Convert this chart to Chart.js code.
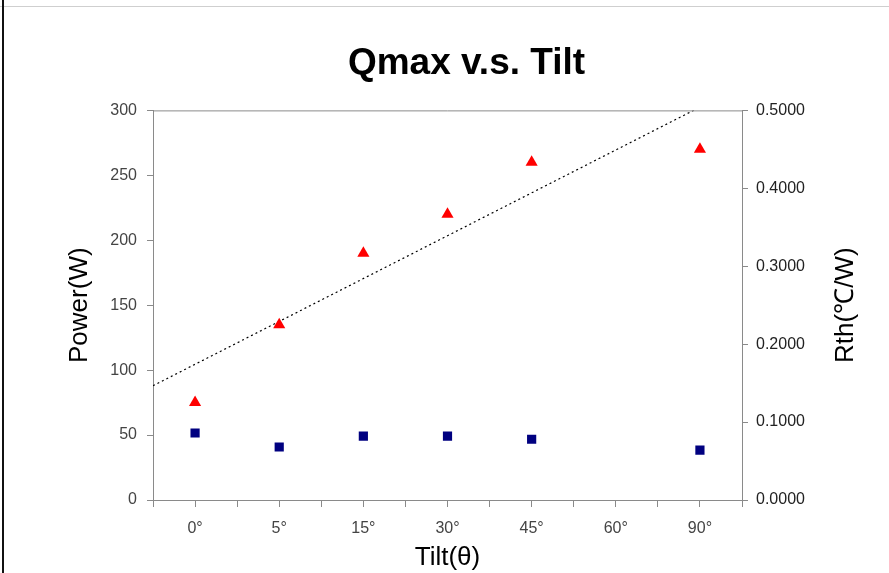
<!DOCTYPE html>
<html>
<head>
<meta charset="utf-8">
<script src="https://cdn.jsdelivr.net/npm/chart.js@4.4.0/dist/chart.umd.min.js"></script>
<style>
body { margin: 0; background: #fff; }
#wrap { position: relative; width: 889px; height: 573px; overflow: hidden; }
#topline { position: absolute; left: 0; top: 6px; width: 889px; height: 1px; background: #cfcfcf; }
#leftline { position: absolute; left: 2px; top: 0; width: 2px; height: 573px; background: #111; }
canvas { position: absolute; left: 0; top: 0; }
</style>
</head>
<body>
<div id="wrap">
  <canvas id="myChart" width="889" height="573"></canvas>
  <div id="topline"></div>
  <div id="leftline"></div>
</div>
<script>
var categories = ['0°', '5°', '15°', '30°', '45°', '60°', '90°'];
var power = [75, 135, 190, 220, 260, null, 270];
var rth = [0.086, 0.068, 0.082, 0.082, 0.078, null, 0.064];
var trendX = [-0.5, 6.5];
var trendY = [88, 319];
var powerTicks = [0, 50, 100, 150, 200, 250, 300];
var rthTicks = [0, 0.1, 0.2, 0.3, 0.4, 0.5];

function toPoints(values) {
    var pts = [];
    for (var i = 0; i < values.length; i++) {
        if (values[i] !== null) {
            pts.push({ x: i, y: values[i] });
        }
    }
    return pts;
}

var trendPoints = [];
for (var i = 0; i < trendX.length; i++) {
    trendPoints.push({ x: trendX[i], y: trendY[i] });
}

var tickFont = { family: 'Liberation Sans, Arial, sans-serif', size: 16 };
var titleFont = { family: 'Liberation Sans, Arial, sans-serif', size: 26 };

// top edge of the plot box and the right axis title (reads bottom to top)
var framePlugin = {
    id: 'frame',
    afterDatasetsDraw: function (chart) {
        var a = chart.chartArea;
        var ctx = chart.ctx;
        ctx.save();
        ctx.strokeStyle = '#8a8a8a';
        ctx.lineWidth = 1;
        ctx.beginPath();
        ctx.moveTo(a.left, a.top + 0.5);
        ctx.lineTo(a.right, a.top + 0.5);
        ctx.stroke();

        ctx.translate(846, (a.top + a.bottom) / 2);
        ctx.rotate(-Math.PI / 2);
        ctx.fillStyle = '#000';
        ctx.font = '26px Liberation Sans, Arial, sans-serif';
        ctx.textAlign = 'center';
        ctx.textBaseline = 'middle';
        ctx.fillText('Rth(℃/W)', 0, 0);
        ctx.restore();
    }
};

var ctx = document.getElementById('myChart').getContext('2d');

var myChart = new Chart(ctx, {
    type: 'scatter',
    data: {
        datasets: [{
            label: 'Qmax',
            data: toPoints(power),
            yAxisID: 'y',
            pointStyle: 'triangle',
            pointRadius: 7,
            backgroundColor: '#ff0000',
            borderColor: '#ff0000',
            borderWidth: 0
        }, {
            label: 'Rth',
            data: toPoints(rth),
            yAxisID: 'y1',
            pointStyle: 'rect',
            pointRadius: 6.5,
            backgroundColor: '#000080',
            borderColor: '#000080',
            borderWidth: 0
        }, {
            label: 'trend',
            type: 'line',
            data: trendPoints,
            yAxisID: 'y',
            showLine: true,
            fill: false,
            borderColor: '#000',
            borderWidth: 1.2,
            borderDash: [2, 3],
            pointRadius: 0
        }]
    },
    options: {
        responsive: false,
        animation: false,
        events: [],
        layout: { padding: { left: 64, right: 20, top: 0, bottom: 0 } },
        plugins: {
            legend: { display: false },
            tooltip: { enabled: false },
            title: {
                display: true,
                text: 'Qmax v.s. Tilt',
                color: '#000',
                font: { family: 'Liberation Sans Narrow, Arial Narrow, Liberation Sans, sans-serif', size: 37, weight: 'bold' },
                padding: { top: 42, bottom: 24 }
            }
        },
        scales: {
            x: {
                type: 'linear',
                min: -0.5,
                max: 6.5,
                afterFit: function (s) { s.height = 73; },
                afterBuildTicks: function (s) {
                    var t = [];
                    for (var k = -1; k <= 13; k++) t.push({ value: k / 2 });
                    s.ticks = t;
                },
                ticks: {
                    autoSkip: false,
                    maxRotation: 0,
                    padding: 12,
                    color: '#444',
                    font: tickFont,
                    callback: function (v) {
                        return Number.isInteger(v) && v >= 0 ? categories[v] : '';
                    }
                },
                grid: { drawOnChartArea: false, tickLength: 7, color: '#8a8a8a' },
                border: { color: '#8a8a8a' },
                title: { display: true, text: 'Tilt(θ)', color: '#000', font: titleFont, padding: { top: 0, bottom: 0 } }
            },
            y: {
                position: 'left',
                min: 0,
                max: 300,
                afterFit: function (s) { s.width = 89; },
                afterBuildTicks: function (s) {
                    s.ticks = powerTicks.map(function (v) { return { value: v }; });
                },
                ticks: { color: '#444', font: tickFont, padding: 10 },
                grid: { drawOnChartArea: false, tickLength: 6, color: '#8a8a8a' },
                border: { color: '#8a8a8a' },
                title: { display: true, text: 'Power(W)', color: '#000', font: titleFont, padding: { top: 0, bottom: 8 } }
            },
            y1: {
                position: 'right',
                min: 0,
                max: 0.5,
                afterFit: function (s) { s.width = 127; },
                afterBuildTicks: function (s) {
                    s.ticks = rthTicks.map(function (v) { return { value: v }; });
                },
                ticks: {
                    color: '#222',
                    font: tickFont,
                    padding: 8,
                    callback: function (v) { return v.toFixed(4); }
                },
                grid: { drawOnChartArea: false, tickLength: 6, color: '#8a8a8a' },
                border: { color: '#8a8a8a' },
                title: { display: false }
            }
        }
    },
    plugins: [framePlugin]
});
</script>
</body>
</html>
